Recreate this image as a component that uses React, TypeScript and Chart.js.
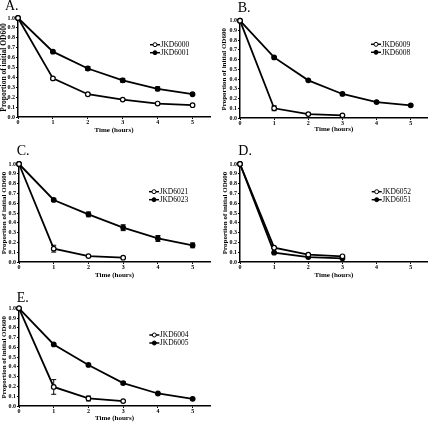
import { useEffect, useRef } from "react";
import { Chart, registerables } from "chart.js";

Chart.register(...registerables);

// ---------- data ----------
const hours = [0, 1, 2, 3, 4, 5];
const xTickValues = [0, 1, 2, 3, 4, 5];
const yTickValues = [0, 0.1, 0.2, 0.3, 0.4, 0.5, 0.6, 0.7, 0.8, 0.9, 1.0];

const aNames = ["JKD6000", "JKD6001"];
const aOpen = [1.0, 0.39, 0.23, 0.176, 0.136, 0.119];
const aOpenErr = [0, 0.01, 0.01, 0.008, 0.008, 0.006];
const aFilled = [1.0, 0.66, 0.49, 0.37, 0.285, 0.23];
const aFilledErr = [0, 0.01, 0.02, 0.02, 0.02, 0.01];

const bNames = ["JKD6009", "JKD6008"];
const bOpen = [1.0, 0.1, 0.04, 0.027];
const bOpenErr = [0, 0.025, 0.008, 0.006];
const bFilled = [1.0, 0.623, 0.387, 0.247, 0.164, 0.13];
const bFilledErr = [0, 0.008, 0.008, 0.008, 0.006, 0.006];

const cNames = ["JKD6021", "JKD6023"];
const cOpen = [1.0, 0.136, 0.06, 0.044];
const cOpenErr = [0, 0.035, 0.008, 0.005];
const cFilled = [1.0, 0.633, 0.486, 0.35, 0.24, 0.17];
const cFilledErr = [0, 0.01, 0.025, 0.03, 0.03, 0.025];

const dNames = ["JKD6052", "JKD6051"];
const dOpen = [1.0, 0.146, 0.075, 0.058];
const dOpenErr = [0, 0.008, 0.006, 0.005];
const dFilled = [1.0, 0.095, 0.05, 0.037];
const dFilledErr = [0, 0.006, 0.005, 0.004];

const eNames = ["JKD6004", "JKD6005"];
const eOpen = [1.0, 0.195, 0.077, 0.05];
const eOpenErr = [0, 0.075, 0.025, 0.005];
const eFilled = [1.0, 0.63, 0.42, 0.235, 0.128, 0.073];
const eFilledErr = [0, 0.008, 0.008, 0.015, 0.006, 0.005];

const xAxisTitle = "Time (hours)";
const yAxisTitle = "Proportion of initial OD600";

// ---------- layout ----------
const SERIF = "'Liberation Serif', 'Times New Roman', serif";

type Panel = {
  letter: string;
  names: string[];
  open: number[];
  openErr: number[];
  filled: number[];
  filledErr: number[];
  box: { left: number; top: number; w: number; h: number };
  pad: { left: number; top: number; right: number };
  yW: number;
  xH: number;
  yTitleSize: number;
  xTitlePad: number;
  letterPos: [number, number];
  legendPos: [number, number];
};

const panels: Panel[] = [
  {
    letter: "A.", names: aNames, open: aOpen, openErr: aOpenErr, filled: aFilled, filledErr: aFilledErr,
    box: { left: 0, top: 0, w: 216, h: 140 }, pad: { left: 0, top: 18, right: 6 },
    yW: 18, xH: 23, yTitleSize: 7.5, xTitlePad: 5.8, letterPos: [5, 10], legendPos: [150, 44.7],
  },
  {
    letter: "B.", names: bNames, open: bOpen, openErr: bOpenErr, filled: bFilled, filledErr: bFilledErr,
    box: { left: 216, top: 0, w: 217, h: 140 }, pad: { left: 4, top: 20.7, right: 1 },
    yW: 20, xH: 22, yTitleSize: 7, xTitlePad: 6.8, letterPos: [21.7, 12.3], legendPos: [155, 44.3],
  },
  {
    letter: "C.", names: cNames, open: cOpen, openErr: cOpenErr, filled: cFilled, filledErr: cFilledErr,
    box: { left: 0, top: 140, w: 216, h: 140 }, pad: { left: 0, top: 24, right: 6 },
    yW: 19, xH: 18, yTitleSize: 7, xTitlePad: 1.1, letterPos: [16.7, 15], legendPos: [149, 51.7],
  },
  {
    letter: "D.", names: dNames, open: dOpen, openErr: dOpenErr, filled: dFilled, filledErr: dFilledErr,
    box: { left: 216, top: 140, w: 217, h: 140 }, pad: { left: 5, top: 24, right: 0.5 },
    yW: 19, xH: 18, yTitleSize: 7, xTitlePad: 1.1, letterPos: [22.3, 15], legendPos: [155.7, 51.7],
  },
  {
    letter: "E.", names: eNames, open: eOpen, openErr: eOpenErr, filled: eFilled, filledErr: eFilledErr,
    box: { left: 0, top: 280, w: 216, h: 144 }, pad: { left: 0, top: 28.3, right: 6 },
    yW: 19, xH: 18, yTitleSize: 7, xTitlePad: 2.1, letterPos: [16.7, 21.7], legendPos: [149.3, 55],
  },
];

const decoPlugin = {
  id: "panelDeco",
  beforeDatasetsDraw(chart: any) {
    const ctx = chart.ctx;
    const xs = chart.scales.x;
    const ys = chart.scales.y;
    ctx.save();
    ctx.strokeStyle = "#000";
    ctx.lineWidth = 1;
    chart.data.datasets.forEach((ds: any) => {
      const errs: number[] = ds.errs || [];
      ds.data.forEach((p: any, j: number) => {
        const e = errs[j] || 0;
        if (!e) return;
        const x = xs.getPixelForValue(p.x);
        const y1 = ys.getPixelForValue(p.y + e);
        const y2 = ys.getPixelForValue(p.y - e);
        ctx.beginPath();
        ctx.moveTo(x, y1);
        ctx.lineTo(x, y2);
        ctx.moveTo(x - 2.5, y1);
        ctx.lineTo(x + 2.5, y1);
        ctx.moveTo(x - 2.5, y2);
        ctx.lineTo(x + 2.5, y2);
        ctx.stroke();
      });
    });
    ctx.restore();
  },
  afterDraw(chart: any, _args: any, opts: any) {
    const ctx = chart.ctx;
    ctx.save();
    ctx.fillStyle = "#000";
    ctx.font = `14px ${SERIF}`;
    ctx.textBaseline = "alphabetic";
    ctx.textAlign = "left";
    ctx.fillText(opts.letter, opts.letterPos[0], opts.letterPos[1]);
    const [lx, ly] = opts.legendPos;
    ctx.font = `7.5px ${SERIF}`;
    ctx.textBaseline = "middle";
    chart.data.datasets.forEach((ds: any, i: number) => {
      const y = ly + i * 8;
      ctx.strokeStyle = "#000";
      ctx.lineWidth = 1.5;
      ctx.beginPath();
      ctx.moveTo(lx, y);
      ctx.lineTo(lx + 10, y);
      ctx.stroke();
      ctx.beginPath();
      ctx.arc(lx + 5, y, 2, 0, Math.PI * 2);
      ctx.fillStyle = ds.pointBackgroundColor;
      ctx.fill();
      ctx.lineWidth = 1;
      ctx.stroke();
      ctx.fillStyle = "#000";
      ctx.fillText(ds.label, lx + 10.5, y + 0.5);
    });
    ctx.restore();
  },
};

function PanelChart({ p }: { p: Panel }) {
  const ref = useRef<HTMLCanvasElement>(null);
  useEffect(() => {
    if (!ref.current) return;
    const mk = (vals: number[], errs: number[], name: string, open: boolean) => ({
      label: name,
      data: vals.map((v, i) => ({ x: hours[i], y: v })),
      errs,
      borderColor: "#000",
      borderWidth: 1.8,
      pointRadius: 2.3,
      pointBorderWidth: 1.2,
      pointBorderColor: "#000",
      pointBackgroundColor: open ? "#fff" : "#000",
      tension: 0,
      clip: false,
    });
    const tickFont = { family: SERIF, size: 6, weight: "bold" as const };
    const chart = new Chart(ref.current, {
      type: "line",
      data: {
        datasets: [
          mk(p.open, p.openErr, p.names[0], true),
          mk(p.filled, p.filledErr, p.names[1], false),
        ] as any,
      },
      options: {
        animation: false,
        responsive: false,
        devicePixelRatio: 1,
        layout: { padding: { left: p.pad.left, top: p.pad.top, right: p.pad.right, bottom: 0 } },
        plugins: {
          legend: { display: false },
          tooltip: { enabled: false },
          panelDeco: { letter: p.letter, letterPos: p.letterPos, legendPos: p.legendPos },
        } as any,
        scales: {
          x: {
            type: "linear",
            min: 0,
            max: 5.5,
            position: "bottom",
            grid: { display: true, drawOnChartArea: false, drawTicks: true, tickLength: 2, color: "#000", lineWidth: 1 },
            border: { display: true, color: "#000", width: 1.5 },
            ticks: { font: tickFont, color: "#000", padding: 0, maxRotation: 0, autoSkip: false },
            afterBuildTicks: (s: any) => {
              s.ticks = xTickValues.map((v) => ({ value: v }));
            },
            afterFit: (s: any) => {
              s.height = p.xH;
            },
            title: {
              display: true,
              text: xAxisTitle,
              color: "#000",
              font: { family: SERIF, size: 7, weight: "bold" },
              padding: { top: 0, bottom: p.xTitlePad },
            },
          },
          y: {
            type: "linear",
            min: 0,
            max: 1,
            grid: { display: true, drawOnChartArea: false, drawTicks: true, tickLength: 2, color: "#000", lineWidth: 1 },
            border: { display: true, color: "#000", width: 1.5 },
            ticks: {
              font: tickFont,
              color: "#000",
              padding: 1,
              autoSkip: false,
              callback: (v: any) => Number(v).toFixed(1),
            },
            afterBuildTicks: (s: any) => {
              s.ticks = yTickValues.map((v) => ({ value: v }));
            },
            afterFit: (s: any) => {
              s.width = p.yW;
            },
            title: {
              display: true,
              text: yAxisTitle,
              color: "#000",
              font: { family: SERIF, size: p.yTitleSize, weight: "bold" },
              padding: { top: 0, bottom: 0 },
            },
          },
        },
      },
      plugins: [decoPlugin],
    });
    return () => chart.destroy();
  }, [p]);
  return (
    <canvas
      ref={ref}
      width={p.box.w}
      height={p.box.h}
      style={{ position: "absolute", left: p.box.left, top: p.box.top, width: p.box.w, height: p.box.h }}
    />
  );
}

export default function App() {
  return (
    <div style={{ position: "absolute", left: 0, top: 0, width: 433, height: 424, background: "#fff" }}>
      {panels.map((p) => (
        <PanelChart key={p.letter} p={p} />
      ))}
    </div>
  );
}
